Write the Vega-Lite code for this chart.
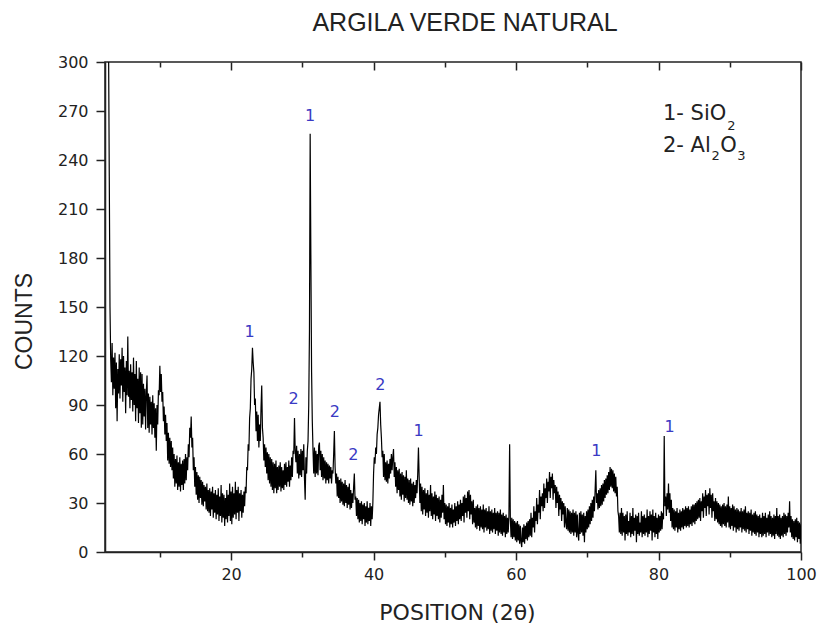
{
"$schema": "https://vega.github.io/schema/vega-lite/v6.json",
"width": 696, "height": 490,
"autosize": {"type": "none"},
"padding": {"left": 105, "top": 62, "right": 18, "bottom": 74},
"background": "white",
"title": {"text": "ARGILA VERDE NATURAL", "font": "Liberation Sans", "fontSize": 25, "fontWeight": "normal", "color": "#222", "anchor": "middle", "dx": 12, "dy": 30, "baseline": "alphabetic", "offset": 28},
"config": {"view": {"stroke": "#222", "strokeWidth": 1.5}},
"datasets": {
"xrd": [
{"x":2.4,"y":340},{"x":2.5,"y":380},{"x":2.6,"y":400},{"x":2.7,"y":360},{"x":2.8,"y":310},{"x":2.9,"y":230},
{"x":3.0,"y":150},{"x":3.1,"y":118},{"x":3.2,"y":104},{"x":3.3,"y":128},{"x":3.4,"y":96},{"x":3.5,"y":119},{"x":3.6,"y":100},{"x":3.7,"y":122},{"x":3.8,"y":88},{"x":3.9,"y":116},
{"x":4.0,"y":80},{"x":4.1,"y":112},{"x":4.2,"y":97},{"x":4.3,"y":121},{"x":4.4,"y":94},{"x":4.5,"y":118},{"x":4.6,"y":102},{"x":4.7,"y":125},{"x":4.8,"y":92},{"x":4.9,"y":120},
{"x":5.0,"y":98},{"x":5.1,"y":113},{"x":5.2,"y":85},{"x":5.3,"y":117},{"x":5.4,"y":96},{"x":5.5,"y":132},{"x":5.6,"y":95},{"x":5.7,"y":111},{"x":5.8,"y":88},{"x":5.9,"y":115},
{"x":6.0,"y":93},{"x":6.1,"y":110},{"x":6.2,"y":86},{"x":6.3,"y":119},{"x":6.4,"y":90},{"x":6.5,"y":109},{"x":6.6,"y":80},{"x":6.7,"y":117},{"x":6.8,"y":88},{"x":6.9,"y":106},
{"x":7.0,"y":79},{"x":7.1,"y":113},{"x":7.2,"y":85},{"x":7.3,"y":110},{"x":7.4,"y":76},{"x":7.5,"y":109},{"x":7.6,"y":78},{"x":7.7,"y":103},{"x":7.8,"y":83},{"x":7.9,"y":100},
{"x":8.0,"y":75},{"x":8.1,"y":98},{"x":8.2,"y":108},{"x":8.3,"y":76},{"x":8.4,"y":97},{"x":8.5,"y":73},{"x":8.6,"y":95},{"x":8.7,"y":78},{"x":8.8,"y":92},{"x":8.9,"y":72},
{"x":9.0,"y":96},{"x":9.1,"y":76},{"x":9.2,"y":91},{"x":9.3,"y":70},{"x":9.4,"y":88},{"x":9.5,"y":62},{"x":9.6,"y":90},{"x":9.7,"y":78},{"x":9.8,"y":99},{"x":9.9,"y":96},
{"x":10.0,"y":114},{"x":10.1,"y":98},{"x":10.2,"y":109},{"x":10.3,"y":92},{"x":10.4,"y":98},{"x":10.5,"y":80},{"x":10.6,"y":89},{"x":10.7,"y":72},{"x":10.8,"y":84},{"x":10.9,"y":68},
{"x":11.0,"y":79},{"x":11.1,"y":56},{"x":11.2,"y":73},{"x":11.3,"y":54},{"x":11.4,"y":70},{"x":11.5,"y":52},{"x":11.6,"y":68},{"x":11.7,"y":50},{"x":11.8,"y":64},{"x":11.9,"y":45},
{"x":12.0,"y":60},{"x":12.1,"y":40},{"x":12.2,"y":57},{"x":12.3,"y":42},{"x":12.4,"y":59},{"x":12.5,"y":38},{"x":12.6,"y":55},{"x":12.7,"y":40},{"x":12.8,"y":58},{"x":12.9,"y":37},
{"x":13.0,"y":54},{"x":13.1,"y":41},{"x":13.2,"y":56},{"x":13.3,"y":38},{"x":13.4,"y":57},{"x":13.5,"y":42},{"x":13.6,"y":60},{"x":13.7,"y":44},{"x":13.8,"y":58},{"x":13.9,"y":50},
{"x":14.0,"y":66},{"x":14.1,"y":58},{"x":14.2,"y":76},{"x":14.3,"y":70},{"x":14.4,"y":83},{"x":14.5,"y":64},{"x":14.6,"y":70},{"x":14.7,"y":50},{"x":14.8,"y":58},{"x":14.9,"y":40},
{"x":15.0,"y":52},{"x":15.1,"y":35},{"x":15.2,"y":49},{"x":15.3,"y":32},{"x":15.4,"y":47},{"x":15.5,"y":30},{"x":15.6,"y":46},{"x":15.7,"y":33},{"x":15.8,"y":44},{"x":15.9,"y":29},
{"x":16.0,"y":43},{"x":16.1,"y":28},{"x":16.2,"y":41},{"x":16.3,"y":31},{"x":16.4,"y":40},{"x":16.5,"y":26},{"x":16.6,"y":42},{"x":16.7,"y":25},{"x":16.8,"y":38},{"x":16.9,"y":24},
{"x":17.0,"y":39},{"x":17.1,"y":22},{"x":17.2,"y":37},{"x":17.3,"y":26},{"x":17.4,"y":40},{"x":17.5,"y":21},{"x":17.6,"y":36},{"x":17.7,"y":24},{"x":17.8,"y":38},{"x":17.9,"y":20},
{"x":18.0,"y":35},{"x":18.1,"y":23},{"x":18.2,"y":39},{"x":18.3,"y":19},{"x":18.4,"y":34},{"x":18.5,"y":22},{"x":18.6,"y":41},{"x":18.7,"y":18},{"x":18.8,"y":36},{"x":18.9,"y":21},
{"x":19.0,"y":35},{"x":19.1,"y":16},{"x":19.2,"y":33},{"x":19.3,"y":20},{"x":19.4,"y":38},{"x":19.5,"y":18},{"x":19.6,"y":35},{"x":19.7,"y":22},{"x":19.8,"y":42},{"x":19.9,"y":19},
{"x":20.0,"y":37},{"x":20.1,"y":17},{"x":20.2,"y":40},{"x":20.3,"y":21},{"x":20.4,"y":36},{"x":20.5,"y":23},{"x":20.6,"y":43},{"x":20.7,"y":20},{"x":20.8,"y":38},{"x":20.9,"y":24},
{"x":21.0,"y":40},{"x":21.1,"y":19},{"x":21.2,"y":36},{"x":21.3,"y":25},{"x":21.4,"y":38},{"x":21.5,"y":21},{"x":21.6,"y":35},{"x":21.7,"y":24},{"x":21.8,"y":37},{"x":21.9,"y":28},
{"x":22.0,"y":40},{"x":22.1,"y":36},{"x":22.2,"y":52},{"x":22.3,"y":50},{"x":22.4,"y":66},{"x":22.5,"y":62},{"x":22.6,"y":82},{"x":22.7,"y":88},{"x":22.8,"y":106},{"x":22.9,"y":112},
{"x":23.0,"y":125},{"x":23.1,"y":116},{"x":23.2,"y":110},{"x":23.3,"y":90},{"x":23.4,"y":94},{"x":23.5,"y":74},{"x":23.6,"y":86},{"x":23.7,"y":68},{"x":23.8,"y":84},{"x":23.9,"y":64},
{"x":24.0,"y":78},{"x":24.1,"y":68},{"x":24.2,"y":88},{"x":24.3,"y":102},{"x":24.4,"y":76},{"x":24.5,"y":70},{"x":24.6,"y":56},{"x":24.7,"y":66},{"x":24.8,"y":52},{"x":24.9,"y":64},
{"x":25.0,"y":48},{"x":25.1,"y":61},{"x":25.2,"y":44},{"x":25.3,"y":60},{"x":25.4,"y":42},{"x":25.5,"y":58},{"x":25.6,"y":40},{"x":25.7,"y":57},{"x":25.8,"y":38},{"x":25.9,"y":55},
{"x":26.0,"y":36},{"x":26.1,"y":54},{"x":26.2,"y":39},{"x":26.3,"y":56},{"x":26.4,"y":36},{"x":26.5,"y":52},{"x":26.6,"y":38},{"x":26.7,"y":53},{"x":26.8,"y":40},{"x":26.9,"y":55},
{"x":27.0,"y":37},{"x":27.1,"y":52},{"x":27.2,"y":39},{"x":27.3,"y":50},{"x":27.4,"y":38},{"x":27.5,"y":54},{"x":27.6,"y":41},{"x":27.7,"y":55},{"x":27.8,"y":40},{"x":27.9,"y":52},
{"x":28.0,"y":43},{"x":28.1,"y":56},{"x":28.2,"y":40},{"x":28.3,"y":53},{"x":28.4,"y":44},{"x":28.5,"y":58},{"x":28.6,"y":46},{"x":28.7,"y":62},{"x":28.8,"y":60},{"x":28.9,"y":82},
{"x":29.0,"y":62},{"x":29.1,"y":55},{"x":29.2,"y":65},{"x":29.3,"y":48},{"x":29.4,"y":62},{"x":29.5,"y":45},{"x":29.6,"y":60},{"x":29.7,"y":47},{"x":29.8,"y":63},{"x":29.9,"y":46},
{"x":30.0,"y":62},{"x":30.1,"y":50},{"x":30.2,"y":66},{"x":30.3,"y":45},{"x":30.4,"y":32},{"x":30.5,"y":58},{"x":30.6,"y":48},{"x":30.7,"y":62},{"x":30.8,"y":68},{"x":30.9,"y":90},
{"x":31.0,"y":135},{"x":31.1,"y":256},{"x":31.2,"y":180},{"x":31.3,"y":110},{"x":31.4,"y":80},{"x":31.5,"y":62},{"x":31.6,"y":48},{"x":31.7,"y":64},{"x":31.8,"y":46},{"x":31.9,"y":62},
{"x":32.0,"y":48},{"x":32.1,"y":60},{"x":32.2,"y":47},{"x":32.3,"y":65},{"x":32.4,"y":67},{"x":32.5,"y":50},{"x":32.6,"y":62},{"x":32.7,"y":46},{"x":32.8,"y":60},{"x":32.9,"y":44},
{"x":33.0,"y":58},{"x":33.1,"y":45},{"x":33.2,"y":56},{"x":33.3,"y":42},{"x":33.4,"y":55},{"x":33.5,"y":44},{"x":33.6,"y":54},{"x":33.7,"y":42},{"x":33.8,"y":53},{"x":33.9,"y":45},
{"x":34.0,"y":52},{"x":34.1,"y":42},{"x":34.2,"y":50},{"x":34.3,"y":48},{"x":34.4,"y":60},{"x":34.5,"y":74},{"x":34.6,"y":52},{"x":34.7,"y":42},{"x":34.8,"y":48},{"x":34.9,"y":34},
{"x":35.0,"y":46},{"x":35.1,"y":33},{"x":35.2,"y":44},{"x":35.3,"y":30},{"x":35.4,"y":45},{"x":35.5,"y":31},{"x":35.6,"y":43},{"x":35.7,"y":29},{"x":35.8,"y":42},{"x":35.9,"y":28},
{"x":36.0,"y":44},{"x":36.1,"y":30},{"x":36.2,"y":41},{"x":36.3,"y":27},{"x":36.4,"y":40},{"x":36.5,"y":29},{"x":36.6,"y":42},{"x":36.7,"y":26},{"x":36.8,"y":38},{"x":36.9,"y":27},
{"x":37.0,"y":36},{"x":37.1,"y":30},{"x":37.2,"y":40},{"x":37.3,"y":48},{"x":37.4,"y":32},{"x":37.5,"y":34},{"x":37.6,"y":22},{"x":37.7,"y":33},{"x":37.8,"y":20},{"x":37.9,"y":32},
{"x":38.0,"y":18},{"x":38.1,"y":30},{"x":38.2,"y":19},{"x":38.3,"y":31},{"x":38.4,"y":17},{"x":38.5,"y":29},{"x":38.6,"y":20},{"x":38.7,"y":30},{"x":38.8,"y":16},{"x":38.9,"y":28},
{"x":39.0,"y":18},{"x":39.1,"y":31},{"x":39.2,"y":17},{"x":39.3,"y":27},{"x":39.4,"y":19},{"x":39.5,"y":30},{"x":39.6,"y":16},{"x":39.7,"y":28},{"x":39.8,"y":20},{"x":39.9,"y":30},
{"x":40.0,"y":48},{"x":40.1,"y":58},{"x":40.2,"y":54},{"x":40.3,"y":64},{"x":40.4,"y":60},{"x":40.5,"y":72},{"x":40.6,"y":76},{"x":40.7,"y":84},{"x":40.8,"y":88},{"x":40.9,"y":92},
{"x":41.0,"y":78},{"x":41.1,"y":70},{"x":41.2,"y":58},{"x":41.3,"y":62},{"x":41.4,"y":46},{"x":41.5,"y":60},{"x":41.6,"y":44},{"x":41.7,"y":55},{"x":41.8,"y":43},{"x":41.9,"y":56},
{"x":42.0,"y":42},{"x":42.1,"y":54},{"x":42.2,"y":45},{"x":42.3,"y":57},{"x":42.4,"y":48},{"x":42.5,"y":60},{"x":42.6,"y":50},{"x":42.7,"y":58},{"x":42.8,"y":63},{"x":42.9,"y":46},
{"x":43.0,"y":55},{"x":43.1,"y":40},{"x":43.2,"y":52},{"x":43.3,"y":36},{"x":43.4,"y":50},{"x":43.5,"y":38},{"x":43.6,"y":51},{"x":43.7,"y":34},{"x":43.8,"y":48},{"x":43.9,"y":32},
{"x":44.0,"y":49},{"x":44.1,"y":35},{"x":44.2,"y":47},{"x":44.3,"y":31},{"x":44.4,"y":46},{"x":44.5,"y":33},{"x":44.6,"y":50},{"x":44.7,"y":32},{"x":44.8,"y":45},{"x":44.9,"y":30},
{"x":45.0,"y":44},{"x":45.1,"y":29},{"x":45.2,"y":45},{"x":45.3,"y":31},{"x":45.4,"y":42},{"x":45.5,"y":28},{"x":45.6,"y":43},{"x":45.7,"y":30},{"x":45.8,"y":41},{"x":45.9,"y":33},
{"x":46.0,"y":44},{"x":46.1,"y":36},{"x":46.2,"y":48},{"x":46.3,"y":64},{"x":46.4,"y":46},{"x":46.5,"y":30},{"x":46.6,"y":42},{"x":46.7,"y":25},{"x":46.8,"y":40},{"x":46.9,"y":23},
{"x":47.0,"y":38},{"x":47.1,"y":26},{"x":47.2,"y":39},{"x":47.3,"y":22},{"x":47.4,"y":36},{"x":47.5,"y":24},{"x":47.6,"y":38},{"x":47.7,"y":21},{"x":47.8,"y":35},{"x":47.9,"y":25},
{"x":48.0,"y":41},{"x":48.1,"y":22},{"x":48.2,"y":36},{"x":48.3,"y":20},{"x":48.4,"y":34},{"x":48.5,"y":23},{"x":48.6,"y":37},{"x":48.7,"y":19},{"x":48.8,"y":35},{"x":48.9,"y":22},
{"x":49.0,"y":33},{"x":49.1,"y":20},{"x":49.2,"y":34},{"x":49.3,"y":18},{"x":49.4,"y":32},{"x":49.5,"y":21},{"x":49.6,"y":35},{"x":49.7,"y":24},{"x":49.8,"y":41},{"x":49.9,"y":20},
{"x":50.0,"y":30},{"x":50.1,"y":17},{"x":50.2,"y":29},{"x":50.3,"y":16},{"x":50.4,"y":28},{"x":50.5,"y":18},{"x":50.6,"y":30},{"x":50.7,"y":15},{"x":50.8,"y":27},{"x":50.9,"y":17},
{"x":51.0,"y":29},{"x":51.1,"y":15},{"x":51.2,"y":26},{"x":51.3,"y":18},{"x":51.4,"y":30},{"x":51.5,"y":16},{"x":51.6,"y":28},{"x":51.7,"y":19},{"x":51.8,"y":31},{"x":51.9,"y":17},
{"x":52.0,"y":29},{"x":52.1,"y":20},{"x":52.2,"y":32},{"x":52.3,"y":19},{"x":52.4,"y":30},{"x":52.5,"y":22},{"x":52.6,"y":34},{"x":52.7,"y":18},{"x":52.8,"y":35},{"x":52.9,"y":24},
{"x":53.0,"y":33},{"x":53.1,"y":21},{"x":53.2,"y":37},{"x":53.3,"y":25},{"x":53.4,"y":38},{"x":53.5,"y":20},{"x":53.6,"y":35},{"x":53.7,"y":23},{"x":53.8,"y":31},{"x":53.9,"y":17},
{"x":54.0,"y":32},{"x":54.1,"y":18},{"x":54.2,"y":27},{"x":54.3,"y":15},{"x":54.4,"y":28},{"x":54.5,"y":14},{"x":54.6,"y":29},{"x":54.7,"y":16},{"x":54.8,"y":27},{"x":54.9,"y":13},
{"x":55.0,"y":28},{"x":55.1,"y":15},{"x":55.2,"y":26},{"x":55.3,"y":14},{"x":55.4,"y":29},{"x":55.5,"y":12},{"x":55.6,"y":26},{"x":55.7,"y":15},{"x":55.8,"y":27},{"x":55.9,"y":13},
{"x":56.0,"y":25},{"x":56.1,"y":14},{"x":56.2,"y":28},{"x":56.3,"y":11},{"x":56.4,"y":25},{"x":56.5,"y":13},{"x":56.6,"y":26},{"x":56.7,"y":12},{"x":56.8,"y":24},{"x":56.9,"y":14},
{"x":57.0,"y":27},{"x":57.1,"y":11},{"x":57.2,"y":24},{"x":57.3,"y":13},{"x":57.4,"y":25},{"x":57.5,"y":10},{"x":57.6,"y":24},{"x":57.7,"y":12},{"x":57.8,"y":26},{"x":57.9,"y":11},
{"x":58.0,"y":23},{"x":58.1,"y":10},{"x":58.2,"y":24},{"x":58.3,"y":12},{"x":58.4,"y":22},{"x":58.5,"y":9},{"x":58.6,"y":23},{"x":58.7,"y":11},{"x":58.8,"y":21},{"x":58.9,"y":12},
{"x":59.0,"y":22},{"x":59.1,"y":66},{"x":59.2,"y":20},{"x":59.3,"y":9},{"x":59.4,"y":21},{"x":59.5,"y":8},{"x":59.6,"y":20},{"x":59.7,"y":9},{"x":59.8,"y":19},{"x":59.9,"y":7},
{"x":60.0,"y":18},{"x":60.1,"y":6},{"x":60.2,"y":19},{"x":60.3,"y":7},{"x":60.4,"y":17},{"x":60.5,"y":5},{"x":60.6,"y":16},{"x":60.7,"y":6},{"x":60.8,"y":3},{"x":60.9,"y":15},
{"x":61.0,"y":6},{"x":61.1,"y":17},{"x":61.2,"y":5},{"x":61.3,"y":16},{"x":61.4,"y":8},{"x":61.5,"y":18},{"x":61.6,"y":7},{"x":61.7,"y":19},{"x":61.8,"y":9},{"x":61.9,"y":20},
{"x":62.0,"y":10},{"x":62.1,"y":24},{"x":62.2,"y":9},{"x":62.3,"y":21},{"x":62.4,"y":15},{"x":62.5,"y":28},{"x":62.6,"y":12},{"x":62.7,"y":25},{"x":62.8,"y":19},{"x":62.9,"y":33},
{"x":63.0,"y":17},{"x":63.1,"y":29},{"x":63.2,"y":24},{"x":63.3,"y":38},{"x":63.4,"y":20},{"x":63.5,"y":34},{"x":63.6,"y":28},{"x":63.7,"y":36},{"x":63.8,"y":25},{"x":63.9,"y":42},
{"x":64.0,"y":27},{"x":64.1,"y":39},{"x":64.2,"y":33},{"x":64.3,"y":45},{"x":64.4,"y":30},{"x":64.5,"y":43},{"x":64.6,"y":37},{"x":64.7,"y":49},{"x":64.8,"y":33},{"x":64.9,"y":46},
{"x":65.0,"y":39},{"x":65.1,"y":48},{"x":65.2,"y":32},{"x":65.3,"y":44},{"x":65.4,"y":36},{"x":65.5,"y":41},{"x":65.6,"y":27},{"x":65.7,"y":40},{"x":65.8,"y":30},{"x":65.9,"y":37},
{"x":66.0,"y":22},{"x":66.1,"y":35},{"x":66.2,"y":26},{"x":66.3,"y":33},{"x":66.4,"y":19},{"x":66.5,"y":31},{"x":66.6,"y":23},{"x":66.7,"y":30},{"x":66.8,"y":15},{"x":66.9,"y":28},
{"x":67.0,"y":18},{"x":67.1,"y":14},{"x":67.2,"y":27},{"x":67.3,"y":13},{"x":67.4,"y":26},{"x":67.5,"y":12},{"x":67.6,"y":25},{"x":67.7,"y":11},{"x":67.8,"y":24},{"x":67.9,"y":12},
{"x":68.0,"y":26},{"x":68.1,"y":10},{"x":68.2,"y":24},{"x":68.3,"y":12},{"x":68.4,"y":25},{"x":68.5,"y":9},{"x":68.6,"y":23},{"x":68.7,"y":11},{"x":68.8,"y":7},{"x":68.9,"y":24},
{"x":69.0,"y":11},{"x":69.1,"y":25},{"x":69.2,"y":12},{"x":69.3,"y":23},{"x":69.4,"y":10},{"x":69.5,"y":24},{"x":69.6,"y":6},{"x":69.7,"y":22},{"x":69.8,"y":12},{"x":69.9,"y":25},
{"x":70.0,"y":14},{"x":70.1,"y":26},{"x":70.2,"y":15},{"x":70.3,"y":28},{"x":70.4,"y":17},{"x":70.5,"y":30},{"x":70.6,"y":19},{"x":70.7,"y":32},{"x":70.8,"y":21},{"x":70.9,"y":34},
{"x":71.0,"y":25},{"x":71.1,"y":38},{"x":71.2,"y":50},{"x":71.3,"y":30},{"x":71.4,"y":36},{"x":71.5,"y":26},{"x":71.6,"y":38},{"x":71.7,"y":27},{"x":71.8,"y":39},{"x":71.9,"y":28},
{"x":72.0,"y":41},{"x":72.1,"y":29},{"x":72.2,"y":42},{"x":72.3,"y":31},{"x":72.4,"y":44},{"x":72.5,"y":33},{"x":72.6,"y":45},{"x":72.7,"y":35},{"x":72.8,"y":47},{"x":72.9,"y":36},
{"x":73.0,"y":49},{"x":73.1,"y":38},{"x":73.2,"y":52},{"x":73.3,"y":40},{"x":73.4,"y":51},{"x":73.5,"y":39},{"x":73.6,"y":50},{"x":73.7,"y":37},{"x":73.8,"y":48},{"x":73.9,"y":36},
{"x":74.0,"y":46},{"x":74.1,"y":34},{"x":74.2,"y":40},{"x":74.3,"y":25},{"x":74.4,"y":22},{"x":74.5,"y":12},{"x":74.6,"y":24},{"x":74.7,"y":11},{"x":74.8,"y":27},{"x":74.9,"y":10},
{"x":75.0,"y":24},{"x":75.1,"y":12},{"x":75.2,"y":22},{"x":75.3,"y":7},{"x":75.4,"y":23},{"x":75.5,"y":11},{"x":75.6,"y":25},{"x":75.7,"y":10},{"x":75.8,"y":19},{"x":75.9,"y":12},
{"x":76.0,"y":24},{"x":76.1,"y":9},{"x":76.2,"y":22},{"x":76.3,"y":11},{"x":76.4,"y":27},{"x":76.5,"y":10},{"x":76.6,"y":21},{"x":76.7,"y":13},{"x":76.8,"y":23},{"x":76.9,"y":6},
{"x":77.0,"y":22},{"x":77.1,"y":11},{"x":77.2,"y":24},{"x":77.3,"y":10},{"x":77.4,"y":18},{"x":77.5,"y":12},{"x":77.6,"y":25},{"x":77.7,"y":9},{"x":77.8,"y":22},{"x":77.9,"y":11},
{"x":78.0,"y":23},{"x":78.1,"y":10},{"x":78.2,"y":21},{"x":78.3,"y":12},{"x":78.4,"y":26},{"x":78.5,"y":9},{"x":78.6,"y":22},{"x":78.7,"y":11},{"x":78.8,"y":25},{"x":78.9,"y":13},
{"x":79.0,"y":23},{"x":79.1,"y":7},{"x":79.2,"y":26},{"x":79.3,"y":12},{"x":79.4,"y":22},{"x":79.5,"y":9},{"x":79.6,"y":24},{"x":79.7,"y":11},{"x":79.8,"y":21},{"x":79.9,"y":8},
{"x":80.0,"y":23},{"x":80.1,"y":12},{"x":80.2,"y":22},{"x":80.3,"y":13},{"x":80.4,"y":25},{"x":80.5,"y":14},{"x":80.6,"y":24},{"x":80.7,"y":20},{"x":80.8,"y":71},{"x":80.9,"y":28},
{"x":81.0,"y":34},{"x":81.1,"y":22},{"x":81.2,"y":36},{"x":81.3,"y":26},{"x":81.4,"y":42},{"x":81.5,"y":24},{"x":81.6,"y":36},{"x":81.7,"y":19},{"x":81.8,"y":32},{"x":81.9,"y":15},
{"x":82.0,"y":27},{"x":82.1,"y":14},{"x":82.2,"y":26},{"x":82.3,"y":13},{"x":82.4,"y":25},{"x":82.5,"y":15},{"x":82.6,"y":27},{"x":82.7,"y":12},{"x":82.8,"y":24},{"x":82.9,"y":14},
{"x":83.0,"y":26},{"x":83.1,"y":13},{"x":83.2,"y":25},{"x":83.3,"y":15},{"x":83.4,"y":27},{"x":83.5,"y":14},{"x":83.6,"y":26},{"x":83.7,"y":16},{"x":83.8,"y":28},{"x":83.9,"y":15},
{"x":84.0,"y":27},{"x":84.1,"y":16},{"x":84.2,"y":28},{"x":84.3,"y":15},{"x":84.4,"y":26},{"x":84.5,"y":17},{"x":84.6,"y":28},{"x":84.7,"y":16},{"x":84.8,"y":29},{"x":84.9,"y":18},
{"x":85.0,"y":29},{"x":85.1,"y":17},{"x":85.2,"y":30},{"x":85.3,"y":19},{"x":85.4,"y":31},{"x":85.5,"y":20},{"x":85.6,"y":32},{"x":85.7,"y":21},{"x":85.8,"y":33},{"x":85.9,"y":19},
{"x":86.0,"y":31},{"x":86.1,"y":25},{"x":86.2,"y":36},{"x":86.3,"y":21},{"x":86.4,"y":34},{"x":86.5,"y":27},{"x":86.6,"y":38},{"x":86.7,"y":22},{"x":86.8,"y":35},{"x":86.9,"y":28},
{"x":87.0,"y":36},{"x":87.1,"y":23},{"x":87.2,"y":39},{"x":87.3,"y":27},{"x":87.4,"y":35},{"x":87.5,"y":21},{"x":87.6,"y":36},{"x":87.7,"y":25},{"x":87.8,"y":31},{"x":87.9,"y":19},
{"x":88.0,"y":33},{"x":88.1,"y":20},{"x":88.2,"y":31},{"x":88.3,"y":18},{"x":88.4,"y":30},{"x":88.5,"y":17},{"x":88.6,"y":29},{"x":88.7,"y":16},{"x":88.8,"y":28},{"x":88.9,"y":15},
{"x":89.0,"y":29},{"x":89.1,"y":17},{"x":89.2,"y":30},{"x":89.3,"y":16},{"x":89.4,"y":28},{"x":89.5,"y":15},{"x":89.6,"y":29},{"x":89.7,"y":18},{"x":89.8,"y":34},{"x":89.9,"y":15},
{"x":90.0,"y":28},{"x":90.1,"y":14},{"x":90.2,"y":27},{"x":90.3,"y":16},{"x":90.4,"y":29},{"x":90.5,"y":13},{"x":90.6,"y":28},{"x":90.7,"y":15},{"x":90.8,"y":26},{"x":90.9,"y":12},
{"x":91.0,"y":27},{"x":91.1,"y":14},{"x":91.2,"y":26},{"x":91.3,"y":13},{"x":91.4,"y":25},{"x":91.5,"y":15},{"x":91.6,"y":27},{"x":91.7,"y":12},{"x":91.8,"y":25},{"x":91.9,"y":14},
{"x":92.0,"y":26},{"x":92.1,"y":13},{"x":92.2,"y":28},{"x":92.3,"y":12},{"x":92.4,"y":24},{"x":92.5,"y":14},{"x":92.6,"y":25},{"x":92.7,"y":11},{"x":92.8,"y":24},{"x":92.9,"y":13},
{"x":93.0,"y":26},{"x":93.1,"y":10},{"x":93.2,"y":23},{"x":93.3,"y":12},{"x":93.4,"y":24},{"x":93.5,"y":11},{"x":93.6,"y":25},{"x":93.7,"y":10},{"x":93.8,"y":23},{"x":93.9,"y":12},
{"x":94.0,"y":22},{"x":94.1,"y":9},{"x":94.2,"y":23},{"x":94.3,"y":11},{"x":94.4,"y":21},{"x":94.5,"y":9},{"x":94.6,"y":24},{"x":94.7,"y":10},{"x":94.8,"y":22},{"x":94.9,"y":11},
{"x":95.0,"y":24},{"x":95.1,"y":9},{"x":95.2,"y":21},{"x":95.3,"y":12},{"x":95.4,"y":23},{"x":95.5,"y":10},{"x":95.6,"y":25},{"x":95.7,"y":11},{"x":95.8,"y":22},{"x":95.9,"y":9},
{"x":96.0,"y":21},{"x":96.1,"y":10},{"x":96.2,"y":23},{"x":96.3,"y":8},{"x":96.4,"y":22},{"x":96.5,"y":11},{"x":96.6,"y":27},{"x":96.7,"y":10},{"x":96.8,"y":22},{"x":96.9,"y":9},
{"x":97.0,"y":23},{"x":97.1,"y":8},{"x":97.2,"y":21},{"x":97.3,"y":10},{"x":97.4,"y":22},{"x":97.5,"y":9},{"x":97.6,"y":24},{"x":97.7,"y":11},{"x":97.8,"y":23},{"x":97.9,"y":10},
{"x":98.0,"y":22},{"x":98.1,"y":12},{"x":98.2,"y":24},{"x":98.3,"y":15},{"x":98.4,"y":31},{"x":98.5,"y":12},{"x":98.6,"y":22},{"x":98.7,"y":9},{"x":98.8,"y":20},{"x":98.9,"y":8},
{"x":99.0,"y":19},{"x":99.1,"y":7},{"x":99.2,"y":20},{"x":99.3,"y":9},{"x":99.4,"y":21},{"x":99.5,"y":6},{"x":99.6,"y":19},{"x":99.7,"y":8},{"x":99.8,"y":18},{"x":99.9,"y":5},
{"x":100.0,"y":17}
],
"peaks": [
{"x":31.1,"y":267,"label":"1"},{"x":22.6,"y":135,"label":"1"},{"x":28.77,"y":93.7,"label":"2"},{"x":34.58,"y":85.5,"label":"2"},{"x":37.15,"y":59.2,"label":"2"},{"x":40.94,"y":102.4,"label":"2"},{"x":46.32,"y":73.9,"label":"1"},{"x":71.26,"y":61.6,"label":"1"},{"x":81.54,"y":76.5,"label":"1"}
],
"legendMain": [
{"x":80.62,"y":264.3,"t":"1- SiO"},{"x":80.62,"y":244.7,"t":"2- Al"},{"x":88.67,"y":244.7,"t":"O"}
],
"legendSub": [
{"x":89.65,"y":258.6,"t":"2"},{"x":87.43,"y":240.2,"t":"2"},{"x":91.06,"y":240.2,"t":"3"}
]
},
"layer": [
{"data": {"name": "xrd"},
 "mark": {"type": "line", "clip": true, "color": "black", "strokeWidth": 1.2},
 "encoding": {
  "x": {"field": "x", "type": "quantitative", "scale": {"domain": [2.3, 100], "nice": false, "zero": false},
   "axis": {"orient": "bottom", "values": [10,20,30,40,50,60,70,80,90,100], "labelExpr": "datum.value % 20 === 0 ? datum.label : ''",
    "tickSize": {"condition": {"test": "datum.value % 20 === 0", "value": 8}, "value": 5},
    "grid": false, "domainColor": "#222", "domainWidth": 1.5, "tickColor": "#222", "tickWidth": 1.5,
    "labelFont": "DejaVu Sans", "labelFontSize": 16, "labelColor": "#222", "labelPadding": 6, "labelFlush": false,
    "title": "POSITION (2θ)", "titleFont": "DejaVu Sans", "titleFontSize": 22, "titleFontWeight": "normal", "titleColor": "#222",
    "titleX": 352, "titleY": 67, "titleBaseline": "alphabetic", "titleAlign": "center"}},
  "y": {"field": "y", "type": "quantitative", "scale": {"domain": [0, 300], "nice": false},
   "axis": {"values": [0,15,30,45,60,75,90,105,120,135,150,165,180,195,210,225,240,255,270,285,300], "labelExpr": "datum.value % 30 === 0 ? datum.label : ''",
    "tickSize": {"condition": {"test": "datum.value % 30 === 0", "value": 9}, "value": 5},
    "grid": false, "domainColor": "#222", "domainWidth": 1.5, "tickColor": "#222", "tickWidth": 1.5,
    "labelFont": "DejaVu Sans", "labelFontSize": 16, "labelColor": "#222", "labelPadding": 8, "labelFlush": false,
    "title": "COUNTS", "titleFont": "Liberation Sans", "titleFontSize": 23, "titleFontWeight": "normal", "titleColor": "#222",
    "titleX": -74, "titleY": 259, "titleBaseline": "alphabetic", "titleAlign": "center", "titleAngle": -90}}
 }},
{"data": {"name": "peaks"},
 "mark": {"type": "text", "font": "DejaVu Sans", "fontSize": 16, "color": "#3a3ac4", "align": "center", "baseline": "middle"},
 "encoding": {
  "x": {"field": "x", "type": "quantitative",
   "axis": {"orient": "top", "values": [10,20,30,40,50,60,70,80,90,100], "labels": false, "domain": false, "grid": false, "title": null,
    "tickSize": {"condition": {"test": "datum.value % 20 === 0", "value": -8}, "value": -5}, "tickColor": "#222", "tickWidth": 1.5}},
  "y": {"field": "y", "type": "quantitative"},
  "text": {"field": "label"}
 }},
{"data": {"name": "legendMain"},
 "mark": {"type": "text", "font": "DejaVu Sans", "fontSize": 21, "color": "#222", "align": "left", "baseline": "alphabetic"},
 "encoding": {
  "x": {"field": "x", "type": "quantitative", "axis": null},
  "y": {"field": "y", "type": "quantitative"},
  "text": {"field": "t"}
 }},
{"data": {"name": "legendSub"},
 "mark": {"type": "text", "font": "DejaVu Sans", "fontSize": 13, "color": "#222", "align": "left", "baseline": "alphabetic"},
 "encoding": {
  "x": {"field": "x", "type": "quantitative", "axis": null},
  "y": {"field": "y", "type": "quantitative"},
  "text": {"field": "t"}
 }}
],
"resolve": {"axis": {"x": "independent"}}
}
